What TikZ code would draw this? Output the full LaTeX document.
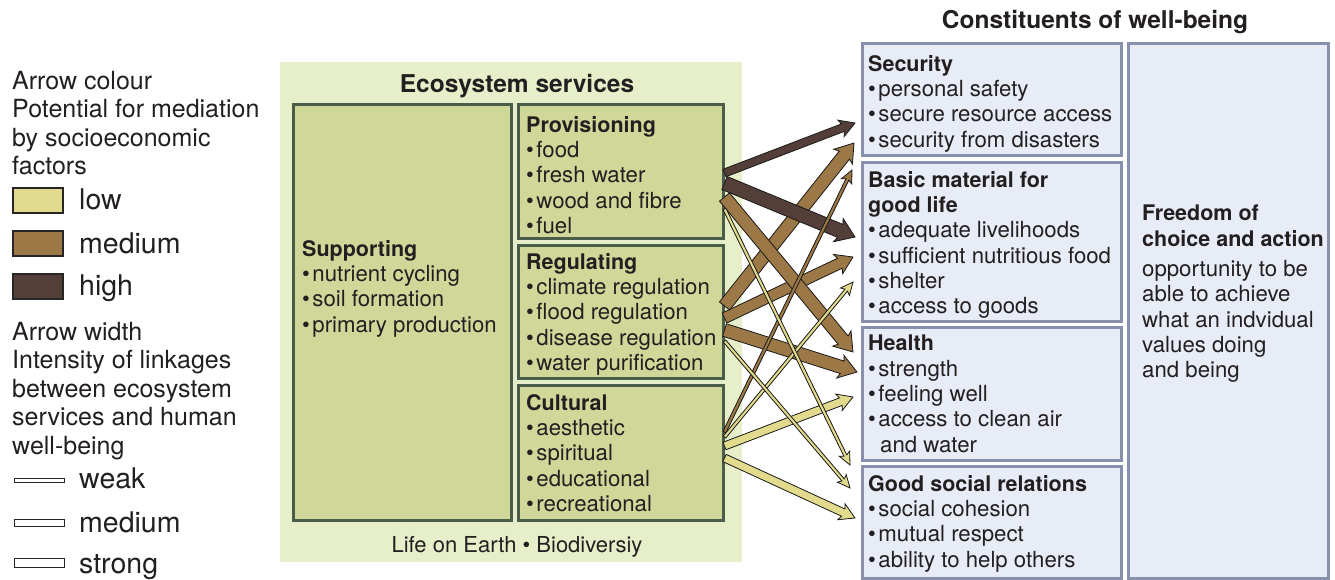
\documentclass[tikz,border=0pt]{standalone}
\usepackage{fontspec}
\setmainfont{TeX Gyre Heros}
\usetikzlibrary{positioning,calc}

\definecolor{lowcol}{HTML}{E2DB8E}
\definecolor{medcol}{HTML}{9B7845}
\definecolor{highcol}{HTML}{543F38}
\definecolor{panelgreen}{HTML}{E6EFC9}
\definecolor{boxgreen}{HTML}{D0D899}
\definecolor{boxgreenline}{HTML}{4A5D48}
\definecolor{wbfill}{HTML}{E8ECF6}
\definecolor{wbline}{HTML}{8791AE}
\definecolor{inkcol}{HTML}{231F20}

\newcommand{\itm}{\textbullet\hspace{2.5pt}}
\newcommand{\hd}[1]{{\fontsize{21.5}{25.3}\selectfont\bfseries #1}}
% outlined arrow from #1 to #2, half shaft width #3, fill #4
\newcommand{\linkarrow}[4]{%
  \path let \p1=(#1), \p2=(#2),
    \n1={atan2(\y2-\y1,\x2-\x1)}, \n2={veclen(\x2-\x1,\y2-\y1)} in
    \pgfextra{\pgfmathparse{\n1}\xdef\lkang{\pgfmathresult}%
              \pgfmathparse{\n2}\xdef\lklen{\pgfmathresult}};
  \filldraw[draw=black!90, line width=0.8pt, fill=#4, line join=miter,
      shift={(#1)}, rotate=\lkang]
    (0,#3) -- ({\lklen-9-#3},#3) -- ({\lklen-11-#3},{1.25*#3+3.8})
    -- (\lklen,0) -- ({\lklen-11-#3},{-1.25*#3-3.8}) -- ({\lklen-9-#3},-#3)
    -- (0,-#3) -- cycle;
}

\begin{document}
\begin{tikzpicture}[x=1pt, y=-1pt, text=inkcol,
    esbox/.style={draw=boxgreenline, fill=boxgreen, line width=3pt, outer sep=0pt, inner sep=0pt, anchor=north west},
    wbbox/.style={draw=wbline, fill=wbfill, line width=3pt, outer sep=0pt, inner sep=0pt, anchor=north west},
    boxtext/.style={anchor=north west, inner sep=0pt, align=left, font=\fontsize{22.2}{25.3}\selectfont},
    legtext/.style={anchor=north west, inner sep=0pt, align=left, font=\fontsize{25}{28.4}\selectfont},
    leglabel/.style={anchor=base west, inner sep=0pt, font=\fontsize{28.5}{30}\selectfont},
    swatch/.style={draw=black!85, line width=1.2pt, minimum width=50pt, minimum height=25pt, anchor=north west, inner sep=0pt, outer sep=0pt},
    wdbar/.style={draw=black!85, fill=white, line width=1pt, minimum width=50pt, anchor=north west, inner sep=0pt, outer sep=0pt},
    title/.style={anchor=base, inner sep=0pt, font=\fontsize{24.5}{28}\selectfont\bfseries}]
  \useasboundingbox (0,0) rectangle (1335,580);

  % Legend
  \node[legtext] (colhead) at (12,71) {Arrow colour\\Potential for mediation\\by socioeconomic\\factors};
  \node[swatch, fill=lowcol] (swlow) at (13,188) {};
  \node[swatch, fill=medcol] (swmed) at (13,231) {};
  \node[swatch, fill=highcol] (swhigh) at (13,274) {};
  \node[leglabel] (lowlbl) at (79,210) {low};
  \node[leglabel] (medlbl) at (79,253) {medium};
  \node[leglabel] (highlbl) at (79,295) {high};

  \node[legtext] (widhead) at (12,322) {Arrow width\\Intensity of linkages\\between ecosystem\\services and human\\well-being};
  \node[wdbar, minimum height=4pt] (wkbar) at (14,478) {};
  \node[wdbar, minimum height=7pt] (mdbar) at (14,519) {};
  \node[wdbar, minimum height=9pt] (stbar) at (14,558) {};
  \node[leglabel] (wklbl) at (79,488) {weak};
  \node[leglabel] (mdlbl) at (79,532) {medium};
  \node[leglabel] (stlbl) at (79,573) {strong};

  % Ecosystem services
  \node[fill=panelgreen, minimum width=462pt, minimum height=500pt, anchor=north west, inner sep=0pt, outer sep=0pt] (panel) at (280,62) {};
  \node[title] (estitle) at (517,93) {Ecosystem services};
  \node[esbox, minimum width=218pt, minimum height=415pt] (supp) at (293,105) {};
  \node[esbox, minimum width=205pt, minimum height=133pt] (prov) at (518,105) {};
  \node[esbox, minimum width=205pt, minimum height=133pt, below=7pt of prov] (reg) {};
  \node[esbox, minimum width=205pt, minimum height=135pt, below=7pt of reg] (cult) {};

  \node[boxtext] (supptxt) at (302,240) {\hd{Supporting}\\\itm nutrient cycling\\\itm soil formation\\\itm primary production};
  \node[boxtext] (provtxt) at ([shift={(8,11)}]prov.north west) {\hd{Provisioning}\\\itm food\\\itm fresh water\\\itm wood and fibre\\\itm fuel};
  \node[boxtext] (regtxt) at ([shift={(8,8)}]reg.north west) {\hd{Regulating}\\\itm climate regulation\\\itm flood regulation\\\itm disease regulation\\\itm water purification};
  \node[boxtext] (culttxt) at ([shift={(8,9)}]cult.north west) {\hd{Cultural}\\\itm aesthetic\\\itm spiritual\\\itm educational\\\itm recreational};
  \node[anchor=base, inner sep=0pt, font=\fontsize{22}{25}\selectfont] (life) at (517,552) {Life on Earth \textbullet{} Biodiversiy};

  % Constituents of well-being
  \node[title] (wbtitle) at (1095,29) {Constituents of well-being};
  \node[wbbox, minimum width=259pt, minimum height=112pt] (sec) at (862,44) {};
  \node[wbbox, minimum width=259pt, minimum height=158pt, below=7pt of sec] (basic) {};
  \node[wbbox, minimum width=259pt, minimum height=133pt, below=6pt of basic] (health) {};
  \node[wbbox, minimum width=259pt, minimum height=112pt, below=6pt of health] (social) {};
  \node[wbbox, minimum width=200pt, minimum height=534pt] (free) at (1128,44) {};

  \node[boxtext] (sectxt) at ([shift={(6,11)}]sec.north west) {\hd{Security}\\\itm personal safety\\\itm secure resource access\\\itm security from disasters};
  \node[boxtext] (basictxt) at ([shift={(6,8)}]basic.north west) {\hd{Basic material for}\\\hd{good life}\\\itm adequate livelihoods\\\itm sufficient nutritious food\\\itm shelter\\\itm access to goods};
  \node[boxtext] (healthtxt) at ([shift={(6,8)}]health.north west) {\hd{Health}\\\itm strength\\\itm feeling well\\\itm access to clean air\\\hspace*{12pt}and water};
  \node[boxtext] (socialtxt) at ([shift={(6,9)}]social.north west) {\hd{Good social relations}\\\itm social cohesion\\\itm mutual respect\\\itm ability to help others};
  \node[boxtext] (freetxt) at ([shift={(14,161)}]free.north west) {\hd{Freedom of}\\\hd{choice and action}\\[5pt]opportunity to be\\able to achieve\\what an indvidual\\values doing\\and being};

  % Arrow ends
  \coordinate (pv-sec) at ([shift={(1.5,68)}]prov.north east);
  \coordinate (pv-bas) at ([shift={(1.5,78)}]prov.north east);
  \coordinate (pv-hea) at ([shift={(1.5,92)}]prov.north east);
  \coordinate (pv-soc) at ([shift={(1.5,104)}]prov.north east);
  \coordinate (rg-sec) at ([shift={(1.5,61)}]reg.north east);
  \coordinate (rg-bas) at ([shift={(1.5,73)}]reg.north east);
  \coordinate (rg-hea) at ([shift={(1.5,85)}]reg.north east);
  \coordinate (rg-soc) at ([shift={(1.5,96)}]reg.north east);
  \coordinate (cu-sec) at ([shift={(1.5,47)}]cult.north east);
  \coordinate (cu-bas) at ([shift={(1.5,52)}]cult.north east);
  \coordinate (cu-hea) at ([shift={(1.5,61)}]cult.north east);
  \coordinate (cu-soc) at ([shift={(1.5,73)}]cult.north east);

  \coordinate (sec-pv) at ([shift={(-7,79)}]sec.north west);
  \coordinate (sec-rg) at ([shift={(-8,99)}]sec.north west);
  \coordinate (sec-cu) at ([shift={(-10,126)}]sec.north west);
  \coordinate (bas-pv) at ([shift={(-7,74)}]basic.north west);
  \coordinate (bas-rg) at ([shift={(-9,94)}]basic.north west);
  \coordinate (bas-cu) at ([shift={(-9,119)}]basic.north west);
  \coordinate (hea-pv) at ([shift={(-9,25)}]health.north west);
  \coordinate (hea-rg) at ([shift={(-5,45)}]health.north west);
  \coordinate (hea-cu) at ([shift={(-9,70)}]health.north west);
  \coordinate (soc-pv) at ([shift={(-12,-1)}]social.north west);
  \coordinate (soc-rg) at ([shift={(-12,22)}]social.north west);
  \coordinate (soc-cu) at ([shift={(-7,52)}]social.north west);

  % Linkages
  \linkarrow{cu-hea}{hea-cu}{4}{lowcol}
  \linkarrow{cu-soc}{soc-cu}{4}{lowcol}
  \linkarrow{rg-bas}{bas-rg}{5.5}{medcol}
  \linkarrow{rg-sec}{sec-rg}{6.5}{medcol}
  \linkarrow{pv-hea}{hea-pv}{6.5}{medcol}
  \linkarrow{rg-hea}{hea-rg}{6.5}{medcol}
  \linkarrow{pv-sec}{sec-pv}{4}{highcol}
  \linkarrow{pv-bas}{bas-pv}{7}{highcol}
  \linkarrow{cu-sec}{sec-cu}{1.6}{medcol}
  \linkarrow{cu-bas}{bas-cu}{1.6}{lowcol}
  \linkarrow{pv-soc}{soc-pv}{1.6}{lowcol}
  \linkarrow{rg-soc}{soc-rg}{1.6}{lowcol}
\end{tikzpicture}
\end{document}
